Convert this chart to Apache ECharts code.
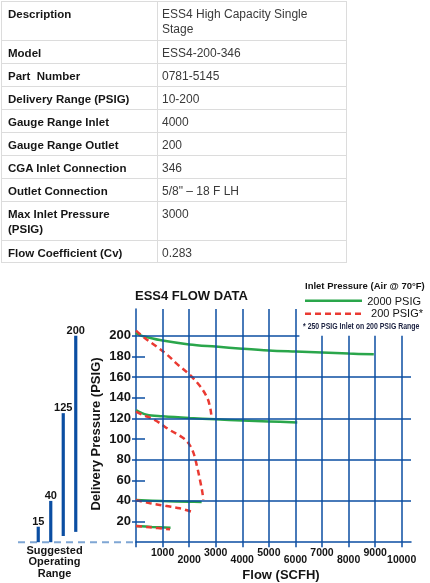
<!DOCTYPE html>
<html>
<head>
<meta charset="utf-8">
<script src="https://cdn.jsdelivr.net/npm/echarts@6.0.0/dist/echarts.min.js"></script>
<style>
  html, body { margin: 0; padding: 0; background: #fff; }
  #chart { position: absolute; left: 0; top: 0; width: 430px; height: 583px; }
  #spec { position: absolute; left: 1px; top: 1px; z-index: 2; border-collapse: collapse;
          width: 346px; font-family: "Liberation Sans", Arial, sans-serif; }
  #spec td { border: 1px solid #dcdcdc; vertical-align: top; padding: 5px 6px 0 6px;
             line-height: 15px; font-size: 12px; box-sizing: border-box; }
  #spec td.k { font-weight: bold; width: 156px; font-size: 11.5px; color: #161616; }
  #spec td.v { color: #3a3a3a; padding-left: 4px; }
</style>
</head>
<body>
<div id="chart"></div>
<table id="spec"><tbody id="specBody"></tbody></table>
<script>
// ---------- table content ----------
const specLabels = ['Description', 'Model', 'Part\u00a0 Number', 'Delivery Range (PSIG)', 'Gauge Range Inlet',
  'Gauge Range Outlet', 'CGA Inlet Connection', 'Outlet Connection', 'Max Inlet Pressure (PSIG)', 'Flow Coefficient (Cv)'];
const specValues = ['ESS4 High Capacity Single Stage', 'ESS4-200-346', '0781-5145', '10-200', '4000',
  '200', '346', '5/8" \u2013 18 F LH', '3000', '0.283'];

// ---------- chart data ----------
const flowTicks = [1000, 2000, 3000, 4000, 5000, 6000, 7000, 8000, 9000, 10000];
const pressureTicks = [20, 40, 60, 80, 100, 120, 140, 160, 180, 200];
const opRangeLabels = ['15', '40', '125', '200'];
const opRangeTop = [15, 40, 125, 200];
const opRangeBase = [0, 0, 6, 10];

// 2000 PSIG inlet (green, solid)  [flow SCFH, delivery PSIG]
const green200 = [[0, 203], [150, 200.5], [350, 199], [1000, 195.3], [2000, 191.6], [3000, 189.5],
  [4000, 187.5], [5000, 185.8], [6000, 184.7], [7000, 183.7], [8000, 182.7], [8950, 182]];
const green125 = [[0, 128], [400, 123.5], [1000, 122], [2000, 120.3], [3000, 119], [4000, 118],
  [5000, 117], [6070, 116]];
const green40 = [[0, 40.8], [1000, 39.8], [2000, 39.2], [2470, 38.9]];
const green15 = [[0, 15.7], [600, 14.8], [1300, 14.0]];

// 200 PSIG inlet (red, dashed)
const red200 = [[0, 205], [340, 197.5], [780, 189.5], [1220, 180.5], [1530, 173], [2030, 162],
  [2400, 151.5], [2680, 140], [2795, 130], [2830, 124], [2845, 120]];
const red125 = [[0, 126.5], [270, 123.2], [700, 118.5], [1280, 108.5], [1750, 101.5], [2000, 95],
  [2170, 86], [2300, 73], [2410, 60], [2500, 48], [2530, 41]];
const red40 = [[0, 40.9], [530, 37.7], [1150, 35], [1650, 32.8], [2100, 29.5]];
const red15 = [[0, 15.7], [530, 14.4], [1280, 12.5]];

// ---------- build table ----------
const rowHeights = [39, 23, 23, 23, 23, 23, 23, 23, 38.5, 22.5];
const tb = document.getElementById('specBody');
specLabels.forEach((lab, i) => {
  const tr = document.createElement('tr');
  tr.style.height = rowHeights[i] + 'px';
  const a = document.createElement('td'); a.className = 'k'; a.textContent = lab;
  const b = document.createElement('td'); b.className = 'v'; b.textContent = specValues[i];
  if (i === 0) b.innerHTML = 'ESS4 High Capacity Single<br>Stage';
  if (i === 8) a.innerHTML = 'Max Inlet Pressure<br>(PSIG)';
  tr.appendChild(a); tr.appendChild(b); tb.appendChild(tr);
});

// ---------- chart ----------
const BLUE = '#0b4ea2';
const GREEN = '#2aa64b';
const RED = '#ea3a32';
const TXT = '#141414';
const FONT = '"Liberation Sans", Arial, sans-serif';
const X_MAX = 10350, Y_MAX = 226;

const chart = echarts.init(document.getElementById('chart'), null, { renderer: 'canvas' });

function curve(data, color, dashed) {
  return {
    type: 'line', xAxisIndex: 0, yAxisIndex: 0, data: data, smooth: 0.35, symbol: 'none',
    lineStyle: { color: color, width: 2.5, type: dashed ? [6, 4] : 'solid', cap: 'butt' },
    z: dashed ? 4 : 3, silent: true
  };
}

const gridLines = [];
flowTicks.forEach(v => gridLines.push([{ coord: [v, 0] }, { coord: [v, v <= 6000 ? Y_MAX : 200] }]));
[40, 80, 120, 160].forEach(p => gridLines.push([{ coord: [0, p] }, { coord: [X_MAX, p] }]));
gridLines.push([{ coord: [0, 200] }, { coord: [6150, 200] }]);
[20, 60, 100, 140, 180].forEach(p => gridLines.push([{ coord: [0, p] }, { coord: [340, p] }]));

const option = {
  backgroundColor: '#fff',
  animation: false,
  title: {
    text: 'ESS4 FLOW DATA', left: 135, top: 290, padding: 0,
    textStyle: { fontFamily: FONT, fontSize: 13, fontWeight: 'bold', color: TXT }
  },
  grid: [
    { left: 136, width: 275, top: 308.9, bottom: 40.8 },
    { left: 32, width: 50, top: 308.9, bottom: 40.8 }
  ],
  xAxis: [
    {
      type: 'value', gridIndex: 0, min: 0, max: X_MAX,
      axisLine: { show: true, lineStyle: { color: BLUE, width: 1.5 } },
      axisTick: { show: true, length: 5, customValues: [0].concat(flowTicks), lineStyle: { color: BLUE, width: 1.5 } },
      splitLine: { show: false },
      axisLabel: {
        customValues: flowTicks, margin: 7.3, lineHeight: 7,
        fontFamily: FONT, fontSize: 10.5, fontWeight: 'bold', color: TXT,
        formatter: v => ((v / 1000) % 2 === 1 ? String(v) : '\n' + v)
      }
    },
    { type: 'category', gridIndex: 1, data: opRangeLabels, show: false }
  ],
  yAxis: [
    {
      type: 'value', gridIndex: 0, min: 0, max: Y_MAX,
      axisLine: { show: true, lineStyle: { color: BLUE, width: 1.5 } },
      axisTick: { show: true, length: 4, customValues: pressureTicks, lineStyle: { color: BLUE, width: 1.5 } },
      splitLine: { show: false },
      axisLabel: { customValues: pressureTicks, margin: 5, fontFamily: FONT, fontSize: 13, fontWeight: 'bold', color: TXT }
    },
    { type: 'value', gridIndex: 1, min: 0, max: Y_MAX, show: false }
  ],
  series: [
    {
      type: 'line', xAxisIndex: 0, yAxisIndex: 0, data: [], silent: true, z: 1,
      markLine: {
        silent: true, symbol: ['none', 'none'], label: { show: false }, animation: false,
        lineStyle: { color: BLUE, width: 1.5, type: 'solid' },
        emphasis: { disabled: true },
        data: gridLines
      }
    },
    curve(green200, GREEN, false), curve(green125, GREEN, false),
    curve(green40, GREEN, false), curve(green15, GREEN, false),
    curve(red200, RED, true), curve(red125, RED, true),
    curve(red40, RED, true), curve(red15, RED, true),
    {
      type: 'custom', xAxisIndex: 1, yAxisIndex: 1, silent: true, z: 5,
      data: opRangeTop.map((t, i) => [i, opRangeBase[i], t]),
      renderItem: function (params, api) {
        const top = api.coord([api.value(0), api.value(2)]);
        const bot = api.coord([api.value(0), api.value(1)]);
        return {
          type: 'group', children: [
            { type: 'rect', shape: { x: top[0] - 1.6, y: top[1], width: 3.2, height: bot[1] - top[1] }, style: { fill: BLUE } },
            { type: 'text', style: { text: opRangeLabels[params.dataIndex], x: top[0], y: top[1] + 0.5,
              align: 'center', verticalAlign: 'bottom', fill: TXT, font: 'bold 11px ' + FONT } }
          ]
        };
      }
    }
  ]
};
chart.setOption(option);

const zero = chart.convertToPixel({ xAxisIndex: 0, yAxisIndex: 0 }, [0, 0]);
chart.setOption({
  graphic: { elements: [
    { id: 'base', type: 'line', z: 0, shape: { x1: 18, y1: zero[1], x2: zero[0], y2: zero[1] },
      style: { stroke: '#7fa6d4', lineWidth: 2, lineDash: [7, 5] } },
    { id: 'opr', type: 'text', x: 54.5, y: 545, style: { text: 'Suggested\nOperating\nRange', align: 'center',
      verticalAlign: 'top', lineHeight: 11.5, fill: TXT, font: 'bold 11px ' + FONT } },
    { id: 'yname', type: 'text', x: 96, y: 434, rotation: Math.PI / 2,
      style: { text: 'Delivery Pressure (PSIG)', align: 'center', verticalAlign: 'middle', fill: TXT, font: 'bold 13px ' + FONT } },
    { id: 'xname', type: 'text', x: 281, y: 575,
      style: { text: 'Flow (SCFH)', align: 'center', verticalAlign: 'middle', fill: TXT, font: 'bold 13px ' + FONT } },
    { id: 'lgTitle', type: 'text', x: 305, y: 286,
      style: { text: 'Inlet Pressure (Air @ 70\u00b0F)', align: 'left', verticalAlign: 'middle', fill: TXT, font: 'bold 9.5px ' + FONT } },
    { id: 'lgG', type: 'line', shape: { x1: 305, y1: 300.7, x2: 362, y2: 300.7 }, style: { stroke: GREEN, lineWidth: 2.5 } },
    { id: 'lgGt', type: 'text', x: 421, y: 301.7,
      style: { text: '2000 PSIG', align: 'right', verticalAlign: 'middle', fill: TXT, font: '11px ' + FONT } },
    { id: 'lgR', type: 'line', shape: { x1: 305, y1: 313.7, x2: 363, y2: 313.7 }, style: { stroke: RED, lineWidth: 2.5, lineDash: [6, 4] } },
    { id: 'lgRt', type: 'text', x: 423, y: 313.5,
      style: { text: '200 PSIG*', align: 'right', verticalAlign: 'middle', fill: TXT, font: '11px ' + FONT } },
    { id: 'lgNote', type: 'text', x: 303, y: 326, scaleX: 0.73,
      style: { text: '* 250 PSIG Inlet on 200 PSIG Range', align: 'left', verticalAlign: 'middle', fill: '#1b2140', font: 'bold 9.5px ' + FONT } }
  ] }
});
</script>
</body>
</html>
